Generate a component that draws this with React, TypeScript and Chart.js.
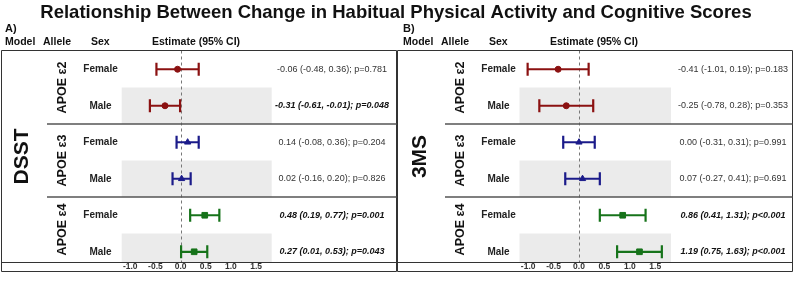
import { useEffect, useRef } from "react";
import { Chart, registerables } from "chart.js";

Chart.register(...registerables);

// ---- data -------------------------------------------------------------
const titleText =
  "Relationship Between Change in Habitual Physical Activity and Cognitive Scores";

const alleles = ["APOE ε2", "APOE ε3", "APOE ε4"];
const sexes = ["Female", "Male"];
const alleleColors = ["#8b1111", "#1b1b8a", "#16731a"];
const alleleMarkers = ["circle", "triangle", "rect"];
const xTicks = [-1.0, -0.5, 0.0, 0.5, 1.0, 1.5];

// DSST — rows: ε2 F, ε2 M, ε3 F, ε3 M, ε4 F, ε4 M
const dsstEstimate = [-0.06, -0.31, 0.14, 0.02, 0.48, 0.27];
const dsstLower = [-0.48, -0.61, -0.08, -0.16, 0.19, 0.01];
const dsstUpper = [0.36, -0.01, 0.36, 0.2, 0.77, 0.53];
const dsstP = ["=0.781", "=0.048", "=0.204", "=0.826", "=0.001", "=0.043"];

// 3MS — same row order
const msEstimate = [-0.41, -0.25, 0.0, 0.07, 0.86, 1.19];
const msLower = [-1.01, -0.78, -0.31, -0.27, 0.41, 0.75];
const msUpper = [0.19, 0.28, 0.31, 0.41, 1.31, 1.63];
const msP = ["=0.183", "=0.353", "=0.991", "=0.691", "<0.001", "<0.001"];

// ---- layout -----------------------------------------------------------
const W = 794;
const H = 282;
const FAMILY = '"Liberation Sans", Arial, Helvetica, sans-serif';
const font = (weight: string, size: number, style = "normal") =>
  `${style} ${weight} ${size}px ${FAMILY}`;

const X_MIN = -1.17;
const X_MAX = 1.81;
const Y_MAX = 5.78; // the axis row slightly overlaps the last table row
const BOX_TOP = 50.5;
const BOX_BOTTOM = 271.5;
const AREA_TOP = 51;
const AREA_BOTTOM = 262;
const AXIS_H = 9;

type Panel = {
  letter: string;
  model: string;
  ox: number;
  boxLeft: number;
  boxRight: number;
  areaLeft: number;
  areaRight: number;
  textX: number;
  est: number[];
  lo: number[];
  hi: number[];
  p: string[];
  withTitle: boolean;
};

const panels: Panel[] = [
  {
    letter: "A)",
    model: "DSST",
    ox: 0,
    boxLeft: 1.5,
    boxRight: 396.5,
    areaLeft: 121.7,
    areaRight: 271.7,
    textX: 332,
    est: dsstEstimate,
    lo: dsstLower,
    hi: dsstUpper,
    p: dsstP,
    withTitle: true,
  },
  {
    letter: "B)",
    model: "3MS",
    ox: 398,
    boxLeft: 397.5,
    boxRight: 792.5,
    areaLeft: 519.5,
    areaRight: 671,
    textX: 733,
    est: msEstimate,
    lo: msLower,
    hi: msUpper,
    p: msP,
    withTitle: false,
  },
];

const fmt = (v: number) => v.toFixed(2);

function hline(ctx: CanvasRenderingContext2D, x0: number, x1: number, y: number) {
  ctx.beginPath();
  ctx.moveTo(x0, y);
  ctx.lineTo(x1, y);
  ctx.stroke();
}
function vline(ctx: CanvasRenderingContext2D, x: number, y0: number, y1: number) {
  ctx.beginPath();
  ctx.moveTo(x, y0);
  ctx.lineTo(x, y1);
  ctx.stroke();
}

function decorPlugin(p: Panel) {
  return {
    id: "forestDecor",
    beforeDatasetsDraw(chart: any) {
      const { ctx, chartArea: ca, scales } = chart;
      const x = scales.x;
      const y = scales.y;
      ctx.save();
      // shaded Male rows
      ctx.fillStyle = "#ebebeb";
      for (let r = 1; r < 6; r += 2) {
        const t = y.getPixelForValue(r);
        const b = Math.min(y.getPixelForValue(r + 1), ca.bottom);
        ctx.fillRect(ca.left, t, ca.right - ca.left, b - t);
      }
      // no-effect reference line
      const zx = Math.round(x.getPixelForValue(0)) + 0.5;
      ctx.strokeStyle = "#777";
      ctx.lineWidth = 1;
      ctx.setLineDash([3, 3]);
      vline(ctx, zx, BOX_TOP, ca.bottom);
      ctx.restore();
    },
    afterDraw(chart: any) {
      const { ctx, chartArea: ca, scales } = chart;
      const y = scales.y;
      const ox = p.ox;
      const rowY = (v: number) => Math.min(y.getPixelForValue(v), ca.bottom);
      ctx.save();
      ctx.fillStyle = "#111";

      if (p.withTitle) {
        ctx.font = font("bold", 20);
        const w = ctx.measureText(titleText).width;
        const size = (20 * 712) / w;
        ctx.font = font("bold", size);
        ctx.textAlign = "center";
        ctx.textBaseline = "alphabetic";
        ctx.fillText(titleText, 396, 18);
      }

      // panel letter and column headers
      ctx.textAlign = "left";
      ctx.textBaseline = "alphabetic";
      ctx.font = font("bold", 11);
      ctx.fillText(p.letter, ox + 5, 32);
      ctx.font = font("bold", 10.5);
      ctx.fillText("Model", ox + 5, 45);
      ctx.fillText("Allele", ox + 43, 45);
      ctx.fillText("Sex", ox + 91, 45);
      ctx.fillText("Estimate (95% CI)", ox + 152, 45);

      // frame
      ctx.strokeStyle = "#333";
      ctx.lineWidth = 1;
      hline(ctx, p.boxLeft, p.boxRight, BOX_TOP);
      hline(ctx, p.boxLeft, p.boxRight, ca.bottom + 0.5);
      hline(ctx, p.boxLeft, p.boxRight, BOX_BOTTOM);
      vline(ctx, p.boxLeft, BOX_TOP, BOX_BOTTOM);
      vline(ctx, p.boxRight, BOX_TOP, BOX_BOTTOM);

      // allele group separators
      ctx.strokeStyle = "#555";
      ctx.lineWidth = 1.5;
      for (const g of [2, 4]) {
        hline(ctx, ox + 47, p.boxRight, Math.round(y.getPixelForValue(g)));
      }

      // model label (rotated)
      ctx.fillStyle = "#111";
      ctx.save();
      ctx.translate(ox + 28, (ca.top + ca.bottom) / 2);
      ctx.rotate(-Math.PI / 2);
      ctx.font = font("bold", 21);
      ctx.textAlign = "center";
      ctx.textBaseline = "alphabetic";
      ctx.fillText(p.model, 0, 0);
      ctx.restore();

      // allele labels (rotated)
      alleles.forEach((a, g) => {
        const cy = (rowY(g * 2) + rowY(g * 2 + 2)) / 2;
        ctx.save();
        ctx.translate(ox + 65.5, cy);
        ctx.rotate(-Math.PI / 2);
        ctx.font = font("bold", 12.5);
        ctx.textAlign = "center";
        ctx.textBaseline = "alphabetic";
        ctx.fillText(a, 0, 0);
        ctx.restore();
      });

      // sex labels and estimate text
      for (let r = 0; r < 6; r++) {
        const cy = y.getPixelForValue(r + 0.5);
        ctx.textBaseline = "middle";
        ctx.textAlign = "center";
        ctx.font = font("bold", 10);
        ctx.fillStyle = "#222";
        ctx.fillText(sexes[r % 2], ox + 100.5, cy);

        const sig = p.lo[r] > 0 || p.hi[r] < 0;
        const label = `${fmt(p.est[r])} (${fmt(p.lo[r])}, ${fmt(p.hi[r])}); p${p.p[r]}`;
        ctx.font = sig ? font("bold", 9, "italic") : font("normal", 9);
        ctx.fillStyle = sig ? "#111" : "#333";
        ctx.fillText(label, p.textX, cy);
      }
      ctx.restore();
    },
  };
}

function buildPanel(canvas: HTMLCanvasElement, p: Panel) {
  const rows = p.est.map((_, r) => r + 0.5);

  // point estimates, one dataset per allele (drawn on top)
  const markerSets = alleles.map((a, g) => ({
    label: `${a} estimate`,
    data: [0, 1].map((s) => ({ x: p.est[g * 2 + s], y: rows[g * 2 + s] })),
    pointStyle: alleleMarkers[g],
    pointRadius: g === 0 ? 3 : g === 1 ? 3.6 : 4,
    backgroundColor: alleleColors[g],
    borderColor: alleleColors[g],
    pointBorderWidth: 1,
    showLine: false,
  }));

  // confidence intervals with capped ends
  const ciSets = p.est.map((_, r) => {
    const c = alleleColors[Math.floor(r / 2)];
    return {
      label: `CI ${r}`,
      data: [
        { x: p.lo[r], y: rows[r] },
        { x: p.hi[r], y: rows[r] },
      ],
      showLine: true,
      borderColor: c,
      borderWidth: 2.2,
      pointStyle: "line",
      pointRotation: 90,
      pointRadius: 6.5,
      pointBorderWidth: 2.2,
      pointBorderColor: c,
      pointBackgroundColor: c,
    };
  });

  return new Chart(canvas, {
    type: "scatter",
    data: { datasets: [...markerSets, ...ciSets] as any },
    options: {
      responsive: false,
      animation: false,
      events: [],
      layout: {
        padding: {
          left: p.areaLeft,
          right: W - p.areaRight,
          top: AREA_TOP,
          bottom: H - AREA_BOTTOM - AXIS_H,
        },
      },
      plugins: {
        legend: { display: false },
        tooltip: { enabled: false },
        title: { display: false },
      },
      scales: {
        x: {
          type: "linear",
          min: X_MIN,
          max: X_MAX,
          grid: { display: false, drawTicks: false },
          border: { display: false },
          afterBuildTicks: (scale: any) => {
            scale.ticks = xTicks.map((v) => ({ value: v }));
          },
          afterFit: (scale: any) => {
            scale.height = AXIS_H;
          },
          ticks: {
            padding: 0,
            autoSkip: false,
            maxRotation: 0,
            color: "#333",
            font: { family: FAMILY, size: 8.5, weight: "bold" },
            callback: (v: any) => Number(v).toFixed(1),
          },
        },
        y: {
          type: "linear",
          min: 0,
          max: Y_MAX,
          reverse: true,
          display: false,
        },
      },
    },
    plugins: [decorPlugin(p)],
  } as any);
}

export default function App() {
  const refA = useRef<HTMLCanvasElement>(null);
  const refB = useRef<HTMLCanvasElement>(null);

  useEffect(() => {
    const a = buildPanel(refA.current!, panels[0]);
    const b = buildPanel(refB.current!, panels[1]);
    return () => {
      a.destroy();
      b.destroy();
    };
  }, []);

  const canvasStyle = { position: "absolute" as const, left: 0, top: 0 };
  return (
    <div
      style={{
        position: "fixed",
        left: 0,
        top: 0,
        width: W,
        height: H,
        background: "#fff",
      }}
    >
      <canvas ref={refA} width={W} height={H} style={canvasStyle} />
      <canvas ref={refB} width={W} height={H} style={canvasStyle} />
    </div>
  );
}
